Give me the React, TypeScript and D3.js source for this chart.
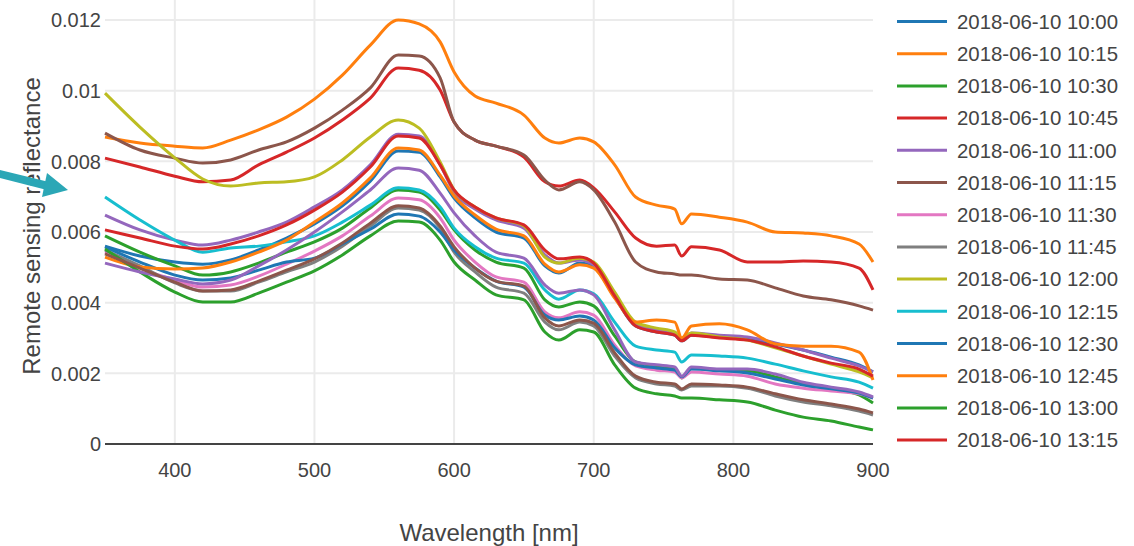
import React from 'react';
import * as d3 from 'd3';

// wavelengths [nm] at which the spectra were read
const wavelengths = [350, 375, 400, 420, 440, 460, 480, 500, 520, 540, 560, 575, 590, 600, 615, 630, 650, 665, 675, 690, 700, 715, 730, 745, 758, 763, 770, 790, 810, 830, 850, 870, 890, 900];

const s1000 = [0.00560, 0.00532, 0.00515, 0.00509, 0.00521, 0.00549, 0.00583, 0.00623, 0.00674, 0.00744, 0.00829, 0.00826, 0.00756, 0.00696, 0.00640, 0.00600, 0.00583, 0.00504, 0.00484, 0.00512, 0.00501, 0.00416, 0.00334, 0.00317, 0.00308, 0.00292, 0.00308, 0.00303, 0.00297, 0.00283, 0.00266, 0.00246, 0.00224, 0.00204];
const s1015 = [0.00869, 0.00852, 0.00843, 0.00838, 0.00860, 0.00889, 0.00925, 0.00976, 0.01044, 0.01129, 0.01200, 0.01189, 0.01138, 0.01053, 0.00985, 0.00965, 0.00931, 0.00866, 0.00852, 0.00866, 0.00855, 0.00790, 0.00699, 0.00676, 0.00665, 0.00623, 0.00651, 0.00642, 0.00628, 0.00600, 0.00597, 0.00589, 0.00566, 0.00515];
const s1030 = [0.00589, 0.00543, 0.00504, 0.00478, 0.00487, 0.00512, 0.00543, 0.00572, 0.00611, 0.00668, 0.00719, 0.00713, 0.00662, 0.00606, 0.00549, 0.00515, 0.00498, 0.00408, 0.00388, 0.00402, 0.00391, 0.00306, 0.00232, 0.00221, 0.00215, 0.00187, 0.00215, 0.00209, 0.00207, 0.00190, 0.00170, 0.00156, 0.00139, 0.00116];
const s1045 = [0.00809, 0.00784, 0.00758, 0.00742, 0.00747, 0.00790, 0.00826, 0.00866, 0.00917, 0.00979, 0.01064, 0.01058, 0.01002, 0.00911, 0.00860, 0.00843, 0.00812, 0.00742, 0.00730, 0.00747, 0.00725, 0.00657, 0.00583, 0.00560, 0.00563, 0.00532, 0.00558, 0.00549, 0.00515, 0.00515, 0.00518, 0.00515, 0.00498, 0.00436];
const s1100 = [0.00648, 0.00606, 0.00577, 0.00563, 0.00577, 0.00600, 0.00628, 0.00671, 0.00719, 0.00790, 0.00877, 0.00872, 0.00790, 0.00713, 0.00665, 0.00634, 0.00611, 0.00535, 0.00512, 0.00521, 0.00507, 0.00422, 0.00340, 0.00323, 0.00314, 0.00297, 0.00314, 0.00308, 0.00303, 0.00286, 0.00266, 0.00243, 0.00221, 0.00204];
const s1115 = [0.00880, 0.00832, 0.00809, 0.00795, 0.00804, 0.00832, 0.00855, 0.00894, 0.00945, 0.01008, 0.01101, 0.01098, 0.01036, 0.00911, 0.00860, 0.00843, 0.00818, 0.00747, 0.00719, 0.00742, 0.00719, 0.00628, 0.00515, 0.00487, 0.00481, 0.00478, 0.00478, 0.00467, 0.00464, 0.00442, 0.00419, 0.00408, 0.00391, 0.00379];
const s1130 = [0.00543, 0.00498, 0.00464, 0.00444, 0.00450, 0.00475, 0.00509, 0.00546, 0.00589, 0.00645, 0.00696, 0.00691, 0.00640, 0.00577, 0.00515, 0.00473, 0.00458, 0.00374, 0.00357, 0.00374, 0.00365, 0.00280, 0.00221, 0.00209, 0.00204, 0.00187, 0.00204, 0.00198, 0.00192, 0.00170, 0.00158, 0.00150, 0.00142, 0.00130];
const s1145 = [0.00549, 0.00504, 0.00456, 0.00433, 0.00433, 0.00458, 0.00487, 0.00515, 0.00560, 0.00617, 0.00668, 0.00662, 0.00611, 0.00543, 0.00487, 0.00444, 0.00427, 0.00345, 0.00323, 0.00345, 0.00334, 0.00249, 0.00187, 0.00170, 0.00164, 0.00153, 0.00164, 0.00164, 0.00158, 0.00136, 0.00119, 0.00108, 0.00093, 0.00082];
const s1200 = [0.00993, 0.00897, 0.00810, 0.00750, 0.00730, 0.00739, 0.00742, 0.00756, 0.00804, 0.00869, 0.00917, 0.00894, 0.00798, 0.00719, 0.00671, 0.00640, 0.00617, 0.00529, 0.00512, 0.00526, 0.00515, 0.00430, 0.00345, 0.00328, 0.00317, 0.00300, 0.00314, 0.00303, 0.00294, 0.00272, 0.00249, 0.00226, 0.00204, 0.00187];
const s1215 = [0.00699, 0.00634, 0.00577, 0.00543, 0.00555, 0.00560, 0.00572, 0.00589, 0.00628, 0.00676, 0.00725, 0.00719, 0.00671, 0.00611, 0.00558, 0.00526, 0.00512, 0.00436, 0.00410, 0.00436, 0.00425, 0.00345, 0.00277, 0.00266, 0.00260, 0.00232, 0.00252, 0.00249, 0.00243, 0.00226, 0.00207, 0.00190, 0.00175, 0.00158];
const s1230 = [0.00558, 0.00515, 0.00478, 0.00464, 0.00470, 0.00492, 0.00515, 0.00526, 0.00566, 0.00608, 0.00651, 0.00645, 0.00600, 0.00549, 0.00498, 0.00461, 0.00444, 0.00365, 0.00351, 0.00362, 0.00351, 0.00272, 0.00224, 0.00215, 0.00209, 0.00190, 0.00212, 0.00207, 0.00201, 0.00184, 0.00167, 0.00156, 0.00144, 0.00130];
const s1245 = [0.00529, 0.00501, 0.00495, 0.00498, 0.00515, 0.00543, 0.00577, 0.00628, 0.00682, 0.00753, 0.00838, 0.00832, 0.00761, 0.00702, 0.00648, 0.00608, 0.00589, 0.00509, 0.00487, 0.00507, 0.00498, 0.00413, 0.00345, 0.00351, 0.00345, 0.00300, 0.00334, 0.00340, 0.00323, 0.00283, 0.00277, 0.00277, 0.00260, 0.00181];
const s1300 = [0.00552, 0.00487, 0.00430, 0.00402, 0.00402, 0.00427, 0.00458, 0.00490, 0.00535, 0.00589, 0.00631, 0.00628, 0.00577, 0.00515, 0.00464, 0.00422, 0.00408, 0.00317, 0.00294, 0.00323, 0.00317, 0.00224, 0.00158, 0.00142, 0.00136, 0.00130, 0.00130, 0.00125, 0.00119, 0.00096, 0.00076, 0.00065, 0.00048, 0.00040];
const s1315 = [0.00606, 0.00583, 0.00560, 0.00552, 0.00566, 0.00589, 0.00620, 0.00662, 0.00713, 0.00784, 0.00872, 0.00866, 0.00790, 0.00719, 0.00671, 0.00640, 0.00620, 0.00549, 0.00524, 0.00529, 0.00512, 0.00419, 0.00334, 0.00317, 0.00308, 0.00292, 0.00308, 0.00300, 0.00294, 0.00275, 0.00249, 0.00229, 0.00212, 0.00192];
const s1330 = [0.00512, 0.00487, 0.00467, 0.00453, 0.00464, 0.00504, 0.00549, 0.00600, 0.00657, 0.00719, 0.00781, 0.00775, 0.00710, 0.00654, 0.00589, 0.00543, 0.00526, 0.00450, 0.00427, 0.00436, 0.00422, 0.00323, 0.00232, 0.00224, 0.00218, 0.00192, 0.00218, 0.00212, 0.00212, 0.00198, 0.00175, 0.00161, 0.00147, 0.00133];
const s1345 = [0.00538, 0.00498, 0.00458, 0.00433, 0.00436, 0.00461, 0.00492, 0.00524, 0.00569, 0.00625, 0.00674, 0.00668, 0.00617, 0.00558, 0.00498, 0.00461, 0.00447, 0.00357, 0.00334, 0.00351, 0.00342, 0.00258, 0.00192, 0.00175, 0.00170, 0.00156, 0.00170, 0.00167, 0.00161, 0.00142, 0.00125, 0.00113, 0.00099, 0.00088];

const seriesLabels = ['2018-06-10 10:00', '2018-06-10 10:15', '2018-06-10 10:30', '2018-06-10 10:45', '2018-06-10 11:00', '2018-06-10 11:15', '2018-06-10 11:30', '2018-06-10 11:45', '2018-06-10 12:00', '2018-06-10 12:15', '2018-06-10 12:30', '2018-06-10 12:45', '2018-06-10 13:00', '2018-06-10 13:15', '2018-06-10 13:30', '2018-06-10 13:45'];
const seriesValues = [s1000, s1015, s1030, s1045, s1100, s1115, s1130, s1145, s1200, s1215, s1230, s1245, s1300, s1315, s1330, s1345];

const xTicks = [400, 500, 600, 700, 800, 900];
const yTicks = [0, 0.002, 0.004, 0.006, 0.008, 0.01, 0.012];

const colors = ['#1f77b4', '#ff7f0e', '#2ca02c', '#d62728', '#9467bd', '#8c564b', '#e377c2', '#7f7f7f', '#bcbd22', '#17becf'];
const font = '"Liberation Sans", Arial, sans-serif';

export default function App() {
    const width = 1134, height = 546;
    const left = 105, right = 873, top = 0, bottom = 444;

    const x = d3.scaleLinear().domain([350, 900]).range([left, right]);
    const y = d3.scaleLinear().domain([0, 0.012566]).range([bottom, top]);

    const line = d3.line<number>()
        .x((d, i) => x(wavelengths[i]))
        .y(d => y(d))
        .curve(d3.curveMonotoneX);

    // legend is clipped after 14 entries, like the original
    const legendShown = 14;
    const legendTop = 21.5, legendStep = 32.2;

    return (
        <svg width={width} height={height}
            style={{ position: 'absolute', left: 0, top: 0, background: '#fff' }}
            fontFamily={font}>
            {/* grid */}
            {xTicks.filter(t => t < 900).map(t => (
                <line key={'gx' + t} x1={x(t)} x2={x(t)} y1={top} y2={bottom} stroke="#ebebeb" strokeWidth={2} />
            ))}
            {yTicks.filter(t => t > 0).map(t => (
                <line key={'gy' + t} x1={left} x2={right} y1={y(t)} y2={y(t)} stroke="#ebebeb" strokeWidth={2} />
            ))}

            {/* traces */}
            <g fill="none" strokeWidth={3} strokeLinejoin="round">
                {seriesValues.map((vals, i) => (
                    <path key={seriesLabels[i]} d={line(vals) || ''} stroke={colors[i % colors.length]} />
                ))}
            </g>

            {/* zero line */}
            <line x1={left} x2={right} y1={y(0)} y2={y(0)} stroke="#444" strokeWidth={2} />

            {/* tick labels */}
            <g fill="#444" fontSize={20}>
                {yTicks.map(t => (
                    <text key={'ty' + t} x={101} y={y(t)} dy="0.36em" textAnchor="end">{d3.format('~g')(t)}</text>
                ))}
                {xTicks.map(t => (
                    <text key={'tx' + t} x={x(t)} y={477} textAnchor="middle">{t}</text>
                ))}
            </g>

            {/* axis titles */}
            <text x={(left + right) / 2} y={541} textAnchor="middle" fontSize={24} fill="#444">Wavelength [nm]</text>
            <text transform="translate(40,226) rotate(-90)" textAnchor="middle" fontSize={24} fill="#444">Remote sensing reflectance</text>

            {/* legend */}
            <g>
                {seriesLabels.slice(0, legendShown).map((lab, i) => (
                    <g key={'lg' + lab} transform={`translate(0,${legendTop + i * legendStep})`}>
                        <line x1={897} x2={947} y1={0} y2={0} stroke={colors[i % colors.length]} strokeWidth={3} />
                        <text x={957} y={0} dy="0.36em" fontSize={20.4} fill="#444">{lab}</text>
                    </g>
                ))}
            </g>

            {/* annotation arrow */}
            <g fill="#2ba7b6">
                <line x1={-4} y1={173} x2={46} y2={185.5} stroke="#2ba7b6" strokeWidth={8} />
                <polygon points="68,190 42,197 47,173" />
            </g>
        </svg>
    );
}
